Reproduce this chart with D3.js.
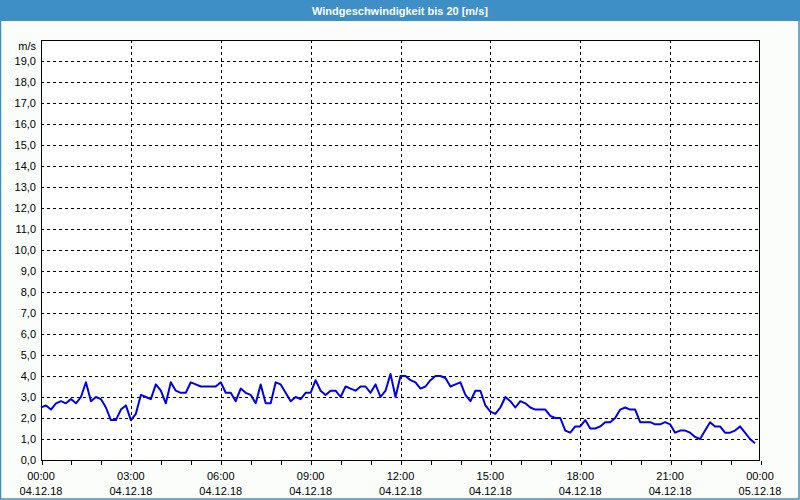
<!DOCTYPE html>
<html>
<head>
<meta charset="utf-8">
<script src="https://cdn.jsdelivr.net/npm/d3@7"></script>
<style>
  html, body { margin: 0; padding: 0; background: #fff; }
  svg { display: block; }
</style>
</head>
<body>
<script>
// ---- data ----
const title = "Windgeschwindigkeit bis 20 [m/s]";
const unitLabel = "m/s";
const stepMinutes = 10;
const windSpeed = [
  2.5, 2.6, 2.4, 2.7, 2.8, 2.7, 2.9, 2.7, 3.0, 3.7, 2.8, 3.0,
  2.9, 2.5, 1.9, 1.9, 2.4, 2.6, 1.9, 2.2, 3.1, 3.0, 2.9, 3.6,
  3.3, 2.7, 3.7, 3.3, 3.2, 3.2, 3.7, 3.6, 3.5, 3.5, 3.5, 3.5,
  3.7, 3.2, 3.2, 2.8, 3.4, 3.2, 3.1, 2.7, 3.6, 2.7, 2.7, 3.7,
  3.6, 3.2, 2.8, 3.0, 2.9, 3.2, 3.2, 3.8, 3.3, 3.1, 3.3, 3.3,
  3.0, 3.5, 3.4, 3.3, 3.5, 3.5, 3.2, 3.6, 3.0, 3.3, 4.1, 3.0,
  4.0, 4.0, 3.8, 3.7, 3.4, 3.5, 3.8, 4.0, 4.0, 3.9, 3.5, 3.6,
  3.7, 3.1, 2.8, 3.3, 3.3, 2.6, 2.3, 2.2, 2.5, 3.0, 2.8, 2.5,
  2.8, 2.7, 2.5, 2.4, 2.4, 2.4, 2.1, 2.0, 2.0, 1.4, 1.3, 1.6,
  1.6, 1.9, 1.5, 1.5, 1.6, 1.8, 1.8, 2.0, 2.4, 2.5, 2.4, 2.4,
  1.8, 1.8, 1.8, 1.7, 1.7, 1.8, 1.7, 1.3, 1.4, 1.4, 1.3, 1.1,
  1.0, 1.4, 1.8, 1.6, 1.6, 1.3, 1.3, 1.4, 1.6, 1.3, 1.0, 0.8
];
const xTickHours = [0, 3, 6, 9, 12, 15, 18, 21, 24];
const xTimeLabels = ["00:00", "03:00", "06:00", "09:00", "12:00", "15:00", "18:00", "21:00", "00:00"];
const xDateLabels = ["04.12.18", "04.12.18", "04.12.18", "04.12.18", "04.12.18", "04.12.18", "04.12.18", "04.12.18", "05.12.18"];
const yTicks = d3.range(0, 20, 1);
const yMax = 20;

// ---- layout ----
const W = 800, H = 500;
const frameColor = "#3d8fc6";
const m = { left: 41, right: 40, top: 40, bottom: 40 };
const font = "'Liberation Sans', Arial, sans-serif";

const svg = d3.select("body").append("svg").attr("width", W).attr("height", H);

svg.append("rect").attr("x", 0).attr("y", 0).attr("width", W).attr("height", H).attr("fill", "#fbfdfb");
// window frame
svg.append("rect").attr("x", 0.5).attr("y", 0.5).attr("width", W - 1.5).attr("height", H - 1.5)
  .attr("fill", "none").attr("stroke", frameColor).attr("stroke-width", 1.5);
svg.append("rect").attr("x", 0).attr("y", 0).attr("width", W).attr("height", 21).attr("fill", frameColor);
svg.append("text").attr("x", 400).attr("y", 11).attr("text-anchor", "middle").attr("dominant-baseline", "central")
  .attr("fill", "#fff").attr("font-family", font).attr("font-weight", "bold").attr("font-size", "11px")
  .text(title);

const x = d3.scaleLinear().domain([0, 24 * 60]).range([m.left, W - m.right]);
const y = d3.scaleLinear().domain([0, yMax]).range([H - m.bottom, m.top]);

svg.append("rect").attr("x", m.left).attr("y", m.top).attr("width", x.range()[1] - m.left)
  .attr("height", y(0) - m.top).attr("fill", "#fff");

// grid
const grid = svg.append("g").attr("stroke", "#000").attr("stroke-width", 1).attr("stroke-dasharray", "3,3")
  .attr("shape-rendering", "crispEdges");
grid.selectAll("line.h").data(yTicks.filter(d => d > 0)).join("line")
  .attr("x1", m.left).attr("x2", x.range()[1]).attr("y1", d => Math.round(y(d)) + 0.5).attr("y2", d => Math.round(y(d)) + 0.5);
grid.selectAll("line.v").data(xTickHours.filter(h => h > 0 && h < 24)).join("line")
  .attr("y1", m.top).attr("y2", y(0)).attr("x1", h => Math.round(x(h * 60)) + 0.5).attr("x2", h => Math.round(x(h * 60)) + 0.5);

// frame of plot
svg.append("rect").attr("x", m.left + 0.5).attr("y", m.top + 0.5)
  .attr("width", x.range()[1] - m.left - 1).attr("height", y(0) - m.top)
  .attr("fill", "none").attr("stroke", "#000").attr("shape-rendering", "crispEdges");

// x axis (hourly ticks)
const xAxis = d3.axisBottom(x).tickValues(d3.range(0, 25).map(h => h * 60)).tickSize(4).tickFormat("");
const gx = svg.append("g").attr("transform", `translate(0.5,${y(0) + 0.5})`).call(xAxis);
gx.select(".domain").remove();
gx.selectAll("line").attr("stroke", "#000").attr("shape-rendering", "crispEdges");

const xl = svg.append("g").attr("font-family", font).attr("font-size", "11px").attr("fill", "#000").attr("text-anchor", "middle");
xl.selectAll("text.t").data(xTickHours).join("text").attr("class", "t")
  .attr("x", (h) => x(h * 60)).attr("y", 480).text((h, i) => xTimeLabels[i]);
xl.selectAll("text.d").data(xTickHours).join("text").attr("class", "d")
  .attr("x", (h) => x(h * 60)).attr("y", 495).text((h, i) => xDateLabels[i]);

// y labels
const yAxis = d3.axisLeft(y).tickValues(yTicks).tickSize(0).tickPadding(5)
  .tickFormat(d => d3.format(".1f")(d).replace(".", ","));
const gy = svg.append("g").attr("transform", `translate(${m.left},0)`).call(yAxis);
gy.select(".domain").remove();
gy.selectAll("text").attr("font-family", font).attr("font-size", "11px").attr("fill", "#000");
svg.append("text").attr("x", 36).attr("y", 46).attr("dominant-baseline", "central").attr("text-anchor", "end")
  .attr("font-family", font).attr("font-size", "11px").attr("fill", "#000").text(unitLabel);

// line
const line = d3.line().x((d, i) => x(i * stepMinutes)).y(d => y(d));
svg.append("path").datum(windSpeed).attr("d", line).attr("fill", "none")
  .attr("stroke", "#0000e6").attr("stroke-width", 2).attr("stroke-linejoin", "round");
</script>
</body>
</html>
